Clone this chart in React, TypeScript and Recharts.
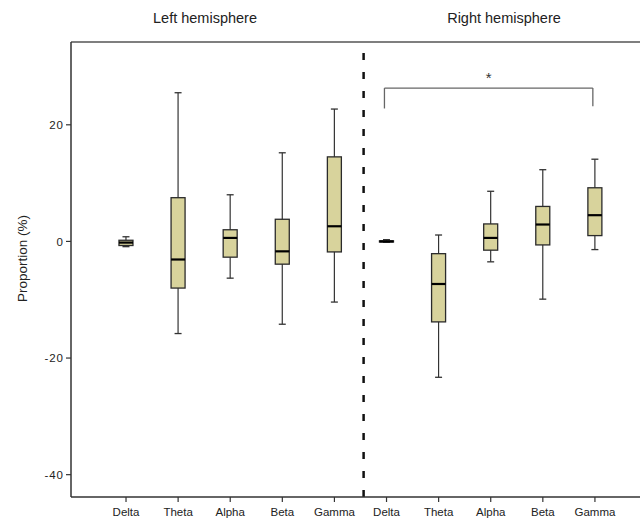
import { ComposedChart, Bar, XAxis, YAxis, ReferenceLine } from "recharts";

const BANDS = ["Delta", "Theta", "Alpha", "Beta", "Gamma"];
const LABELS = [...BANDS, ...BANDS];
const POSITIONS = [1, 2, 3, 4, 5, 6, 7, 8, 9, 10];
const HEMISPHERES = ["Left hemisphere", "Right hemisphere"];

// left: Delta..Gamma, right: Delta..Gamma
const MINS = [-0.9, -15.8, -6.3, -14.2, -10.4, -0.15, -23.3, -3.5, -9.9, -1.4];
const Q1S = [-0.7, -8.0, -2.7, -3.9, -1.8, -0.1, -13.8, -1.5, -0.6, 1.0];
const MEDIANS = [-0.2, -3.1, 0.6, -1.7, 2.6, 0, -7.3, 0.6, 2.9, 4.5];
const Q3S = [0.2, 7.5, 2.0, 3.8, 14.5, 0.1, -2.1, 3.0, 6.0, 9.2];
const MAXS = [0.8, 25.5, 8.0, 15.2, 22.7, 0.3, 1.1, 8.6, 12.3, 14.1];

const Y_TICKS = [-40, -20, 0, 20];
const Y_MIN = -43.83;
const Y_MAX = 34.2;
const X_MIN = -0.056;
const X_MAX = 10.865;
const DIVIDER_X = 5.56;

// significance bracket (Delta vs Gamma, right hemisphere)
const BRACKET_X = [5.96, 9.96];
const BRACKET_TOP = 26.3;
const BRACKET_ENDS = [22.8, 23.2];

const FONT = "'Liberation Sans', Arial, Helvetica, sans-serif";

const data = POSITIONS.map((pos, i) => ({
  pos,
  label: LABELS[i],
  min: MINS[i],
  q1: Q1S[i],
  median: MEDIANS[i],
  q3: Q3S[i],
  max: MAXS[i],
}));

function BoxShape(props: any) {
  const { x, y, width, height, payload } = props;
  if (!payload) return null;
  const { min, q1, median, q3, max } = payload;
  const top = Math.min(y, y + height);
  const h = Math.abs(height);
  const span = max - min || 1;
  const toY = (v: number) => top + ((max - v) / span) * h;
  const cx = x + width / 2;
  const cap = 3.5;
  const yQ3 = toY(q3);
  const yQ1 = toY(q1);
  return (
    <g>
      <line x1={cx} x2={cx} y1={toY(max)} y2={toY(min)} stroke="#333" strokeWidth={1.2} />
      <line x1={cx - cap} x2={cx + cap} y1={toY(max)} y2={toY(max)} stroke="#333" strokeWidth={1.3} />
      <line x1={cx - cap} x2={cx + cap} y1={toY(min)} y2={toY(min)} stroke="#333" strokeWidth={1.3} />
      <rect
        x={x}
        y={yQ3}
        width={width}
        height={Math.max(yQ1 - yQ3, 0.5)}
        fill="#d8d39c"
        stroke="#2b2b2b"
        strokeWidth={1.3}
      />
      <line x1={x} x2={x + width} y1={toY(median)} y2={toY(median)} stroke="#000" strokeWidth={2.2} />
    </g>
  );
}

function YLabel(props: any) {
  const vb = props.viewBox || { x: 31, y: 42, width: 40, height: 455 };
  const cx = vb.x - 9;
  const cy = vb.y + vb.height / 2 - 11;
  return (
    <text
      x={cx}
      y={cy}
      transform={`rotate(-90 ${cx} ${cy})`}
      textAnchor="middle"
      dominantBaseline="central"
      fontSize={13.5}
      fill="#222"
      fontFamily={FONT}
    >
      Proportion (%)
    </text>
  );
}

const titleStyle = {
  position: "absolute" as const,
  top: 9,
  width: 200,
  textAlign: "center" as const,
  fontSize: 14.5,
  lineHeight: "18px",
  color: "#222",
};

export default function App() {
  return (
    <div style={{ position: "absolute", left: 0, top: 0, width: 640, height: 521, background: "#fff", fontFamily: FONT }}>
      <div style={{ ...titleStyle, left: 105 }}>{HEMISPHERES[0]}</div>
      <div style={{ ...titleStyle, left: 404 }}>{HEMISPHERES[1]}</div>
      <ComposedChart width={640} height={521} data={data} margin={{ top: 42, right: 0, bottom: 0, left: 31 }}>
        <XAxis
          dataKey="pos"
          type="number"
          domain={[X_MIN, X_MAX]}
          allowDataOverflow
          ticks={POSITIONS}
          interval={0}
          tickFormatter={(v: number) => LABELS[v - 1] ?? ""}
          height={24}
          tickSize={5}
          tickMargin={6}
          tick={{ fill: "#222", fontSize: 11.5, fontFamily: FONT }}
          axisLine={{ stroke: "#333", strokeWidth: 1.5 }}
          tickLine={{ stroke: "#333", strokeWidth: 1.2 }}
        />
        <YAxis
          type="number"
          domain={[Y_MIN, Y_MAX]}
          allowDataOverflow
          ticks={Y_TICKS}
          interval={0}
          width={40}
          tickSize={5}
          tickMargin={2}
          tick={{ fill: "#222", fontSize: 11.5, fontFamily: FONT, letterSpacing: 1 }}
          axisLine={{ stroke: "#333", strokeWidth: 1.5 }}
          tickLine={{ stroke: "#333", strokeWidth: 1.2 }}
          label={<YLabel />}
        />
        <ReferenceLine y={Y_MAX} stroke="#555" strokeWidth={1.5} />
        <ReferenceLine x={DIVIDER_X} stroke="#111" strokeWidth={2.5} strokeDasharray="7 12" />
        <ReferenceLine
          segment={[
            { x: BRACKET_X[0], y: BRACKET_TOP },
            { x: BRACKET_X[1], y: BRACKET_TOP },
          ]}
          stroke="#666"
          strokeWidth={1.3}
          label={{ value: "*", position: "top", offset: 5, fontSize: 15, fill: "#333", fontFamily: FONT }}
        />
        <ReferenceLine
          segment={[
            { x: BRACKET_X[0], y: BRACKET_TOP },
            { x: BRACKET_X[0], y: BRACKET_ENDS[0] },
          ]}
          stroke="#666"
          strokeWidth={1.3}
        />
        <ReferenceLine
          segment={[
            { x: BRACKET_X[1], y: BRACKET_TOP },
            { x: BRACKET_X[1], y: BRACKET_ENDS[1] },
          ]}
          stroke="#666"
          strokeWidth={1.3}
        />
        <Bar
          dataKey={(d: any) => [d.min, d.max]}
          barSize={14}
          shape={<BoxShape />}
          isAnimationActive={false}
        />
      </ComposedChart>
    </div>
  );
}
